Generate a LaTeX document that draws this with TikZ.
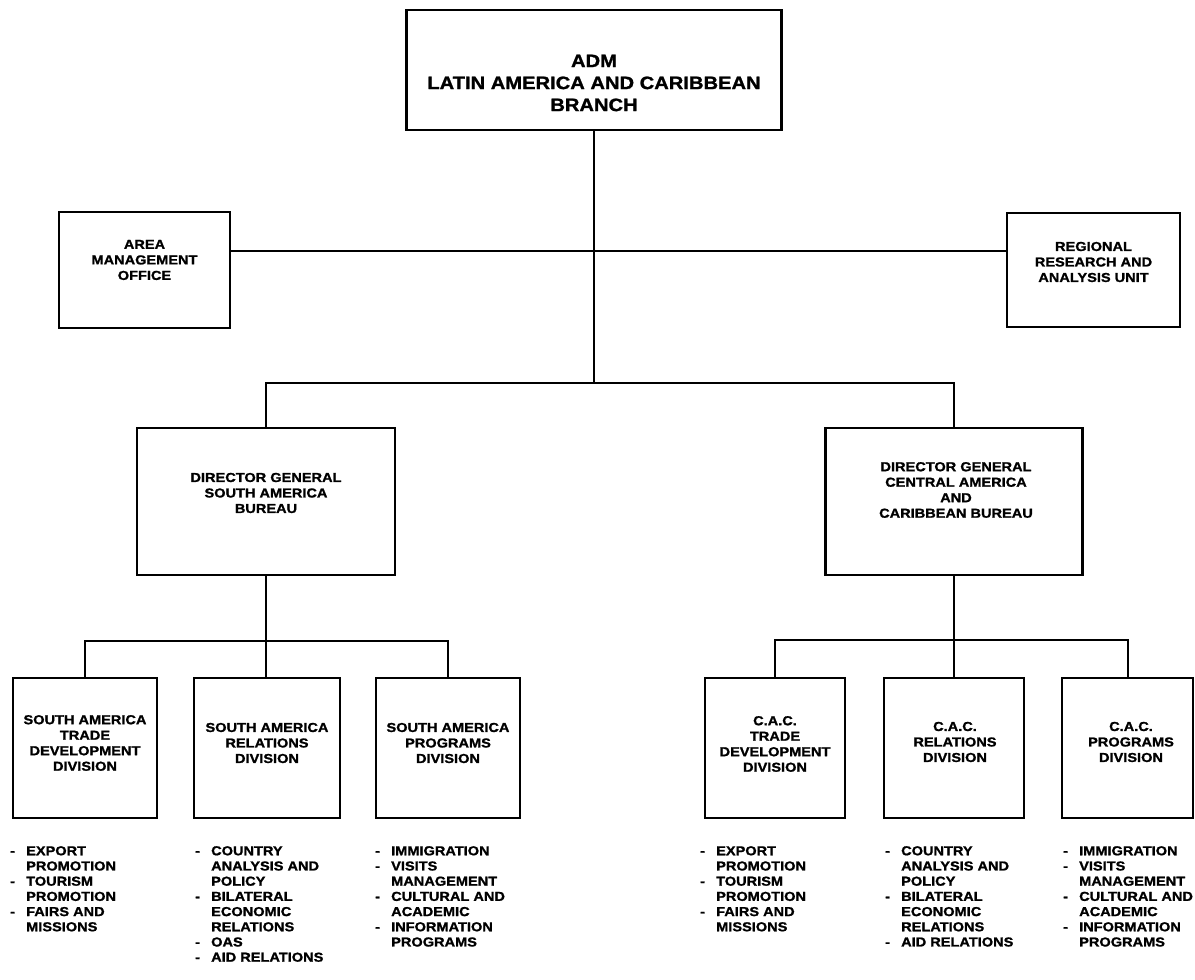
\documentclass[tikz,border=0pt]{standalone}
\usepackage{fontspec}
\setmainfont{Liberation Sans}[FakeStretch=1.12, BoldFeatures={FakeBold=1.3}]
\newcommand\dsh{\makebox[16pt][l]{-}}
\newcommand\ind{\hspace*{16pt}}
\begin{document}
\begin{tikzpicture}[x=1pt,y=-1pt,
  box/.style={draw, line width=2.2pt, inner sep=0pt},
  txt/.style={align=center, font=\bfseries\fontsize{13}{15.5}\selectfont, inner sep=0pt},
  big/.style={align=center, font=\bfseries\fontsize{18}{22}\selectfont, inner sep=0pt},
  lst/.style={align=left, anchor=north west, font=\bfseries\fontsize{13}{15.2}\selectfont, inner sep=0pt},
  conn/.style={line width=2pt}]
\useasboundingbox (0,0) rectangle (1195,980);

% boxes
\node[box, minimum width=375pt, minimum height=120pt] (adm) at (594,70) {};
\node[box, minimum width=171pt, minimum height=116pt] (amo) at (144.5,270) {};
\node[box, minimum width=173pt, minimum height=114pt] (rra) at (1093.5,270) {};
\node[box, minimum width=258pt, minimum height=147pt] (dgsa) at (266,501.5) {};
\node[box, minimum width=257pt, minimum height=147pt] (dgcac) at (954,501.5) {};
\node[box, minimum width=144pt, minimum height=140pt] (sa1) at (85,748) {};
\node[box, minimum width=146pt, minimum height=140pt] (sa2) at (267,748) {};
\node[box, minimum width=144pt, minimum height=140pt] (sa3) at (448,748) {};
\node[box, minimum width=140pt, minimum height=140pt] (cac1) at (775,748) {};
\node[box, minimum width=140pt, minimum height=140pt] (cac2) at (954,748) {};
\node[box, minimum width=131pt, minimum height=140pt] (cac3) at (1127.5,748) {};

% box texts
\node[big] (admT) at (594,83) {ADM\\LATIN AMERICA AND CARIBBEAN\\BRANCH};
\node[txt] (amoT) at (144.5,260) {AREA\\MANAGEMENT\\OFFICE};
\node[txt] (rraT) at (1093.5,262) {REGIONAL\\RESEARCH AND\\ANALYSIS UNIT};
\node[txt] (dgsaT) at (266,493) {DIRECTOR GENERAL\\SOUTH AMERICA\\BUREAU};
\node[txt] (dgcacT) at (956,490) {DIRECTOR GENERAL\\CENTRAL AMERICA\\AND\\CARIBBEAN BUREAU};
\node[txt] (sa1T) at (85,743) {SOUTH AMERICA\\TRADE\\DEVELOPMENT\\DIVISION};
\node[txt] (sa2T) at (267,743) {SOUTH AMERICA\\RELATIONS\\DIVISION};
\node[txt] (sa3T) at (448,743) {SOUTH AMERICA\\PROGRAMS\\DIVISION};
\node[txt] (cac1T) at (775,744) {C.A.C.\\TRADE\\DEVELOPMENT\\DIVISION};
\node[txt] (cac2T) at (955,742) {C.A.C.\\RELATIONS\\DIVISION};
\node[txt] (cac3T) at (1131,742) {C.A.C.\\PROGRAMS\\DIVISION};

% lists
\node[lst] (l1) at (10,846) {\dsh EXPORT\\\ind PROMOTION\\\dsh TOURISM\\\ind PROMOTION\\\dsh FAIRS AND\\\ind MISSIONS};
\node[lst] (l2) at (195,846) {\dsh COUNTRY\\\ind ANALYSIS AND\\\ind POLICY\\\dsh BILATERAL\\\ind ECONOMIC\\\ind RELATIONS\\\dsh OAS\\\dsh AID RELATIONS};
\node[lst] (l3) at (375,846) {\dsh IMMIGRATION\\\dsh VISITS\\\ind MANAGEMENT\\\dsh CULTURAL AND\\\ind ACADEMIC\\\dsh INFORMATION\\\ind PROGRAMS};
\node[lst] (l4) at (700,846) {\dsh EXPORT\\\ind PROMOTION\\\dsh TOURISM\\\ind PROMOTION\\\dsh FAIRS AND\\\ind MISSIONS};
\node[lst] (l5) at (885,846) {\dsh COUNTRY\\\ind ANALYSIS AND\\\ind POLICY\\\dsh BILATERAL\\\ind ECONOMIC\\\ind RELATIONS\\\dsh AID RELATIONS};
\node[lst] (l6) at (1063,846) {\dsh IMMIGRATION\\\dsh VISITS\\\ind MANAGEMENT\\\dsh CULTURAL AND\\\ind ACADEMIC\\\dsh INFORMATION\\\ind PROGRAMS};

% junctions
\coordinate (j1) at (594,251);
\coordinate (j2) at (594,383);
\coordinate (j3) at (266,641);
\coordinate (j4) at (954,640);

% connectors
\draw[conn] (adm.south) -- (j2);
\draw[conn] (amo.east |- j1) -- (rra.west |- j1);
\draw[conn] (dgsa.north) |- (j2) -| (dgcac.north);
\draw[conn] (dgsa.south) -- (j3);
\draw[conn] (j3) -- (sa2.north -| j3);
\draw[conn] (sa1.north) |- (j3) -| (sa3.north);
\draw[conn] (dgcac.south) -- (j4);
\draw[conn] (j4) -- (cac2.north);
\draw[conn] (cac1.north) |- (j4) -| (cac3.north);
\end{tikzpicture}
\end{document}
